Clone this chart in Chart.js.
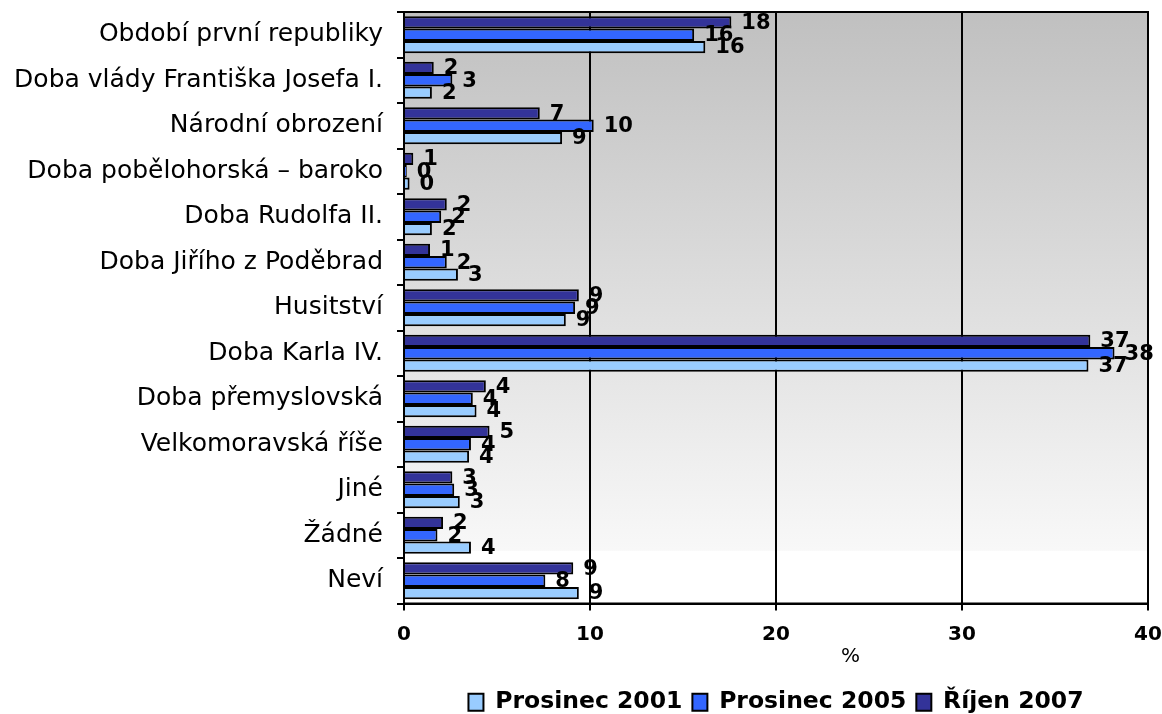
<!DOCTYPE html>
<html lang="cs">
<head>
<meta charset="utf-8">
<title>Období</title>
<script src="https://cdn.jsdelivr.net/npm/chart.js@4.4.1/dist/chart.umd.min.js"></script>
<style>
    html, body { margin: 0; padding: 0; background: #ffffff; }
    #wrap { width: 1162px; height: 714px; position: relative; }
</style>
</head>
<body>
<div id="wrap"><canvas id="barChart"></canvas></div>
<script>
const categories = [
    'Období první republiky',
    'Doba vlády Františka Josefa I.',
    'Národní obrození',
    'Doba pobělohorská – baroko',
    'Doba Rudolfa II.',
    'Doba Jiřího z Poděbrad',
    'Husitství',
    'Doba Karla IV.',
    'Doba přemyslovská',
    'Velkomoravská říše',
    'Jiné',
    'Žádné',
    'Neví'
];

const prosinec2001 = [16.2, 1.5, 8.5, 0.3, 1.5, 2.9, 8.7, 36.8, 3.9, 3.5, 3.0, 3.6, 9.4];
const prosinec2005 = [15.6, 2.6, 10.2, 0.15, 2.0, 2.3, 9.2, 38.2, 3.7, 3.6, 2.7, 1.8, 7.6];
const rijen2007 = [17.6, 1.6, 7.3, 0.5, 2.3, 1.4, 9.4, 36.9, 4.4, 4.6, 2.6, 2.1, 9.1];

const xTicks = [0, 10, 20, 30, 40];

const fontName = '"DejaVu Sans", Verdana, sans-serif';

// background gradient + frame of the plot area
const plotBackground = {
    id: 'plotBackground',
    beforeDraw(chart) {
        const { ctx, chartArea } = chart;
        const h = chartArea.bottom - chartArea.top;
        const grad = ctx.createLinearGradient(0, chartArea.top, 0, chartArea.bottom);
        grad.addColorStop(0, '#c0c0c0');
        grad.addColorStop(0.91, '#f8f8f8');
        grad.addColorStop(0.912, '#ffffff');
        grad.addColorStop(1, '#ffffff');
        ctx.save();
        ctx.fillStyle = grad;
        ctx.fillRect(chartArea.left, chartArea.top, chartArea.right - chartArea.left, h);
        ctx.restore();
    },
    afterDraw(chart) {
        const { ctx, chartArea } = chart;
        ctx.save();
        ctx.strokeStyle = '#000000';
        ctx.lineWidth = 2;
        ctx.strokeRect(chartArea.left, chartArea.top, chartArea.right - chartArea.left, chartArea.bottom - chartArea.top);

        // axis title "%"
        ctx.fillStyle = '#000000';
        ctx.font = '20px ' + fontName;
        ctx.textAlign = 'center';
        ctx.textBaseline = 'middle';
        ctx.fillText('%', chartArea.left + (chartArea.right - chartArea.left) * 0.6, chartArea.bottom + 53);
        ctx.restore();
    }
};

// value labels at the end of each bar
const barValues = {
    id: 'barValues',
    afterDatasetsDraw(chart) {
        const ctx = chart.ctx;
        ctx.save();
        ctx.fillStyle = '#000000';
        ctx.font = 'bold 21px ' + fontName;
        ctx.textAlign = 'left';
        ctx.textBaseline = 'middle';
        chart.data.datasets.forEach((ds, i) => {
            const meta = chart.getDatasetMeta(i);
            meta.data.forEach((bar, j) => {
                ctx.fillText(String(Math.round(ds.data[j])), bar.x + 10, bar.y + 1);
            });
        });
        ctx.restore();
    }
};

function drawChart() {
    const ctx = document.getElementById('barChart').getContext('2d');
    window.barChart = new Chart(ctx, {
        type: 'bar',
        data: {
            labels: categories,
            datasets: [
                {
                    label: 'Říjen 2007',
                    data: rijen2007,
                    backgroundColor: '#333399',
                    borderColor: '#000000',
                    borderWidth: 2
                },
                {
                    label: 'Prosinec 2005',
                    data: prosinec2005,
                    backgroundColor: '#3366ff',
                    borderColor: '#000000',
                    borderWidth: 2
                },
                {
                    label: 'Prosinec 2001',
                    data: prosinec2001,
                    backgroundColor: '#99ccff',
                    borderColor: '#000000',
                    borderWidth: 2
                }
            ]
        },
        options: {
            indexAxis: 'y',
            responsive: true,
            maintainAspectRatio: false,
            animation: false,
            datasets: {
                bar: {
                    categoryPercentage: 0.81,
                    barPercentage: 1.0
                }
            },
            layout: {
                padding: { top: 12, right: 14, left: 0, bottom: -10 }
            },
            plugins: {
                legend: {
                    position: 'bottom',
                    fullSize: false,
                    reverse: true,
                    labels: {
                        color: '#000000',
                        font: { family: fontName, size: 23.5, weight: 'bold' },
                        boxWidth: 15,
                        boxHeight: 17,
                        padding: 10
                    }
                },
                tooltip: { enabled: false }
            },
            scales: {
                x: {
                    min: 0,
                    max: 40,
                    afterBuildTicks(scale) {
                        scale.ticks = xTicks.map(v => ({ value: v }));
                    },
                    afterFit(scale) {
                        scale.height = 77;
                        scale.paddingLeft = 0;
                        scale.paddingRight = 0;
                    },
                    grid: {
                        color: '#000000',
                        lineWidth: 2,
                        tickLength: 7
                    },
                    border: { display: true, color: '#000000', width: 2 },
                    ticks: {
                        color: '#000000',
                        padding: 12,
                        font: { family: fontName, size: 20, weight: 'bold' }
                    }
                },
                y: {
                    afterFit(scale) {
                        scale.width = 404;
                        scale.paddingTop = 0;
                        scale.paddingBottom = 0;
                    },
                    grid: {
                        offset: true,
                        drawOnChartArea: false,
                        color: '#000000',
                        lineWidth: 2,
                        tickLength: 7
                    },
                    border: { display: true, color: '#000000', width: 2 },
                    ticks: {
                        color: '#000000',
                        padding: 14,
                        font: { family: fontName, size: 25 }
                    }
                }
            }
        },
        plugins: [plotBackground, barValues]
    });
}

document.addEventListener('DOMContentLoaded', function () {
    drawChart();
});
</script>
</body>
</html>
